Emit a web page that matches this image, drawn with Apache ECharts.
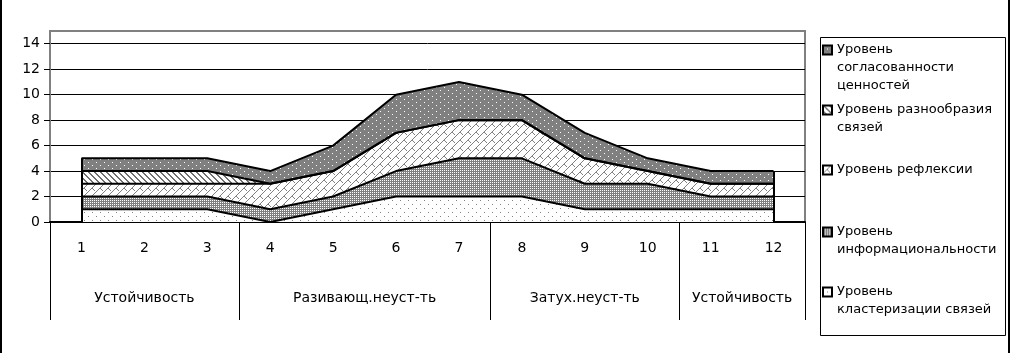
<!DOCTYPE html>
<html>
<head>
<meta charset="utf-8">
<script src="https://cdn.jsdelivr.net/npm/echarts@6/dist/echarts.min.js"></script>
<style>
  html, body { margin: 0; padding: 0; background: #fff; }
  #main { width: 1011px; height: 353px; }
</style>
</head>
<body>
<div id="main"></div>
<script>
var categories = ['1', '2', '3', '4', '5', '6', '7', '8', '9', '10', '11', '12'];
var groupNames = ['Устойчивость', 'Разивающ.неуст-ть', 'Затух.неуст-ть', 'Устойчивость'];
var groupBounds = [0, 3, 7, 10, 12];
var groupCenters = [1.5, 5, 8.5, 11];

// снизу вверх
var clusterVals = [1, 1, 1, 0, 1, 2, 2, 2, 1, 1, 1, 1];
var infoVals = [1, 1, 1, 1, 1, 2, 3, 3, 2, 2, 1, 1];
var reflexVals = [1, 1, 1, 2, 2, 3, 3, 3, 2, 1, 1, 1];
var diversVals = [1, 1, 1, 0, 0, 0, 0, 0, 0, 0, 0, 0];
var valuesVals = [1, 1, 1, 1, 2, 3, 3, 2, 2, 1, 1, 1];

var names = {
    cluster: 'Уровень кластеризации связей',
    info: 'Уровень информациональности',
    reflex: 'Уровень рефлексии',
    divers: 'Уровень разнообразия связей',
    values: 'Уровень согласованности ценностей'
};
var legendLines = {
    cluster: ['Уровень', 'кластеризации связей'],
    info: ['Уровень', 'информациональности'],
    reflex: ['Уровень рефлексии'],
    divers: ['Уровень разнообразия', 'связей'],
    values: ['Уровень', 'согласованности', 'ценностей']
};

function pattern(w, h, bg, fg, pts) {
    var c = document.createElement('canvas');
    c.width = w; c.height = h;
    var ctx = c.getContext('2d');
    ctx.fillStyle = bg;
    ctx.fillRect(0, 0, w, h);
    ctx.fillStyle = fg;
    pts.forEach(function (p) { ctx.fillRect(p[0], p[1], 1, 1); });
    return { image: c, repeat: 'repeat' };
}

var pCluster = pattern(8, 8, '#ffffff', '#808080', [[0, 0], [4, 4]]);
var pInfo = pattern(2, 2, '#808080', '#ffffff', [[0, 0]]);
var pReflex = pattern(8, 8, '#ffffff', '#808080',
    [[0, 7], [1, 6], [2, 5], [3, 4], [4, 3], [5, 2], [6, 1], [7, 0], [4, 4], [5, 5], [6, 6]]);
var pDivers = pattern(6, 6, '#ffffff', '#707070',
    [[0, 0], [1, 0], [1, 1], [2, 1], [2, 2], [3, 2], [3, 3], [4, 3], [4, 4], [5, 4], [5, 5], [0, 5]]);
var pValues = pattern(8, 6, '#808080', '#ffffff', [[0, 0], [4, 3]]);

var totals = categories.map(function (c, i) {
    return clusterVals[i] + infoVals[i] + reflexVals[i] + diversVals[i] + valuesVals[i];
});

function areaSeries(key, data, fill, extra) {
    var s = {
        name: names[key],
        type: 'line',
        stack: 'all',
        data: data,
        symbol: 'none',
        lineStyle: { color: '#000', width: 2 },
        areaStyle: { color: fill, opacity: 1 },
        itemStyle: { color: fill },
        emphasis: { disabled: true },
        animation: false
    };
    if (extra) Object.assign(s, extra);
    return s;
}

var myChart = echarts.init(document.getElementById('main'));

var lineH = 18;
// [ключ, заливка, центр первой строки]
var legendOrder = [
    ['values', pValues, 50],
    ['divers', pDivers, 110],
    ['reflex', pReflex, 170],
    ['info', pInfo, 232],
    ['cluster', pCluster, 292]
];

option = {
    backgroundColor: '#fff',
    textStyle: { fontFamily: 'DejaVu Sans, sans-serif' },
    grid: {
        left: 50, right: 206, top: 31, bottom: 131,
        show: true, borderColor: '#808080', borderWidth: 2, backgroundColor: 'transparent'
    },
    legend: legendOrder.map(function (l) {
        var lines = legendLines[l[0]];
        var n = lines.length;
        // пустые строки сверху, чтобы значок стоял у первой строки
        var pad = [];
        for (var k = 1; k < n; k++) pad.push('');
        var txt = pad.concat(lines).join('\n');
        return {
            orient: 'vertical',
            left: 822,
            top: l[2] - (2 * n - 1) * lineH / 2,
            padding: 0,
            itemWidth: 9,
            itemHeight: 9,
            icon: 'rect',
            selectedMode: false,
            data: [{
                name: names[l[0]],
                itemStyle: { color: l[1], borderColor: '#000', borderWidth: 2 }
            }],
            formatter: function () { return txt; },
            textStyle: { fontSize: 13, color: '#000', lineHeight: lineH, fontFamily: 'DejaVu Sans, sans-serif' }
        };
    }),
    xAxis: [{
        type: 'category',
        data: categories,
        boundaryGap: true,
        axisLine: { lineStyle: { color: '#000', width: 2 } },
        axisTick: { length: 48, lineStyle: { color: '#000', width: 1 } },
        axisLabel: { fontSize: 14, color: '#000', margin: 19 }
    }, {
        type: 'value',
        min: 0,
        max: 12,
        position: 'bottom',
        axisLine: { show: false },
        splitLine: { show: false },
        axisTick: { show: true, customValues: groupBounds, length: 98, lineStyle: { color: '#000', width: 1 } },
        axisLabel: {
            customValues: groupCenters,
            fontSize: 14, color: '#000', margin: 69,
            formatter: function (v) { return groupNames[groupCenters.indexOf(v)]; }
        }
    }],
    yAxis: {
        type: 'value',
        min: 0,
        max: 15,
        interval: 2,
        axisLine: { show: true, lineStyle: { color: '#808080', width: 2 } },
        axisTick: { show: true, length: 6, lineStyle: { color: '#000' } },
        axisLabel: { fontSize: 14, color: '#000', margin: 10, showMaxLabel: false },
        splitLine: { show: true, lineStyle: { color: ['#000', '#000', '#000', '#000', '#000', '#000', '#000', '#000', '#808080'], width: 1 } }
    },
    graphic: [
        { type: 'rect', shape: { x: 820.5, y: 37.5, width: 185, height: 298 }, style: { fill: 'none', stroke: '#000', lineWidth: 1 }, z: 10 },
        { type: 'line', shape: { x1: 1, y1: 0, x2: 1, y2: 353 }, style: { stroke: '#000', lineWidth: 2 } },
        { type: 'line', shape: { x1: 1009, y1: 0, x2: 1009, y2: 353 }, style: { stroke: '#000', lineWidth: 2 } }
    ],
    series: [
        areaSeries('cluster', clusterVals, pCluster, {
            markLine: {
                silent: true, symbol: 'none', label: { show: false },
                lineStyle: { color: '#000', width: 2, type: 'solid' },
                animation: false,
                data: [
                    [{ coord: [0, 0] }, { coord: [0, totals[0]] }],
                    [{ coord: [11, 0] }, { coord: [11, totals[11]] }]
                ]
            }
        }),
        areaSeries('info', infoVals, pInfo),
        areaSeries('reflex', reflexVals, pReflex),
        areaSeries('divers', diversVals, pDivers),
        areaSeries('values', valuesVals, pValues)
    ]
};

myChart.setOption(option);
</script>
</body>
</html>
